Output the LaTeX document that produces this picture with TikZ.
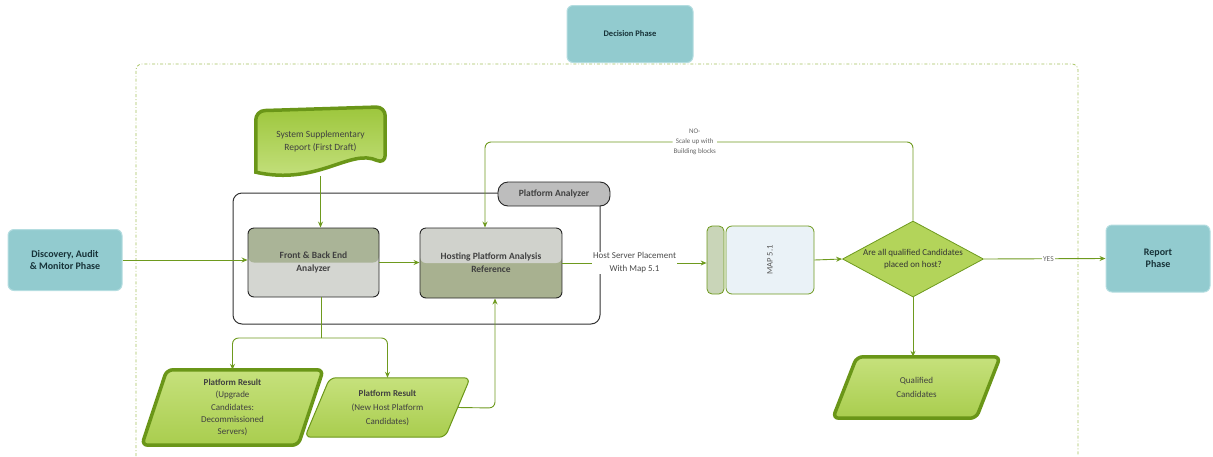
\documentclass[tikz,border=0pt]{standalone}
\usepackage{fontspec}
\setmainfont{Carlito}
\usetikzlibrary{arrows.meta,shapes.geometric,backgrounds,calc}
\definecolor{tealfill}{HTML}{92CBCF}
\definecolor{tealedge}{HTML}{B4DDE0}
\definecolor{tealtext}{HTML}{173238}
\definecolor{gline}{HTML}{6E9A1E}
\definecolor{gthick}{HTML}{6A9618}
\definecolor{framec}{HTML}{A4C25E}
\definecolor{paratop}{HTML}{C6E17C}
\definecolor{parabot}{HTML}{A9CD4E}
\definecolor{doctop}{HTML}{9DC63C}
\definecolor{docbot}{HTML}{C8E384}
\definecolor{diafill}{HTML}{B3D45A}
\definecolor{grayA}{HTML}{AAB497}
\definecolor{grayB}{HTML}{D4D6D1}
\definecolor{grayC}{HTML}{D0D2CC}
\definecolor{grayD}{HTML}{A8B190}
\definecolor{tabfill}{HTML}{BDBDBD}
\definecolor{mapbar}{HTML}{C9D5B8}
\definecolor{mapfill}{HTML}{EAF2F7}
\begin{document}
\begin{tikzpicture}[x=1pt,y=-1pt,
  phasebox/.style={rectangle, rounded corners=6pt, fill=tealfill, draw=tealedge, line width=1pt,
     font=\bfseries\fontsize{10}{11.5}\selectfont, text=tealtext, align=center, inner sep=0pt},
  anbox/.style={rectangle, rounded corners=6pt, draw=black!85, line width=0.9pt, align=center,
     font=\bfseries\fontsize{9.5}{13}\selectfont, text=black!75, inner sep=0pt},
  twotone/.style 2 args={path picture={
     \fill[#2] (path picture bounding box.north west) rectangle (path picture bounding box.south east);
     \fill[#1] (path picture bounding box.north west) rectangle (path picture bounding box.east);}},
  holder/.style={rectangle, inner sep=0pt, align=center},
  arr/.style={draw=gline, line width=0.9pt, -{Stealth[length=6pt,width=5pt]}},
  ln/.style={draw=gline, line width=0.9pt},
  lbl/.style={fill=white, inner sep=1pt, align=center, text=black!60},
  parastyle/.style={rounded corners=6pt, top color=paratop, bottom color=parabot, draw=gthick},
]
\useasboundingbox (0,0) rectangle (1213,456);

% dashed frame
\draw[framec, line width=0.8pt, dash dot, rounded corners=6pt] (136,456) -- (136,64) -- (1078,64) -- (1078,456);

% phases
\node[phasebox, minimum width=126, minimum height=57, font=\bfseries\fontsize{8.5}{10}\selectfont] (dec) at (630,34) {Decision Phase};
\node[phasebox, minimum width=114, minimum height=61] (disc) at (65,260) {Discovery, Audit\\\& Monitor Phase};
\node[phasebox, minimum width=104, minimum height=67] (rep) at (1158,258.5) {Report\\Phase};

% platform analyzer container
\node[rectangle, rounded corners=9pt, draw=black!80, line width=1pt, minimum width=367, minimum height=131] (pa) at (416.5,258.5) {};
\node[rectangle, rounded corners=10pt, draw=black!85, fill=tabfill, line width=0.9pt, minimum width=112, minimum height=24,
      font=\bfseries\fontsize{9.5}{11}\selectfont, text=black!75] (pat) at (554,194) {Platform Analyzer};

% analyzers
\node[anbox, twotone={grayA}{grayB}, minimum width=131, minimum height=69] (fb) at (313.5,262.5) {Front \& Back End\\Analyzer};
\node[anbox, twotone={grayC}{grayD}, minimum width=142, minimum height=70] (hp) at (491,263) {Hosting Platform Analysis\\Reference};

% supplementary report (document shape)
\node[holder, minimum width=129, minimum height=69, font=\fontsize{9.5}{13}\selectfont, text=black!75] (sup) at (320.5,141.5)
   {\raisebox{8pt}{\begin{tabular}{@{}c@{}}System Supplementary\\Report (First Draft)\end{tabular}}};
\begin{scope}[on background layer]
\draw[gthick, line width=3.5pt, top color=doctop, bottom color=docbot, rounded corners=9pt]
  (sup.south west) -- ([yshift=-4pt]sup.north west) -- (sup.north east) -- ([yshift=12pt]sup.south east)
  [sharp corners] .. controls (350,148) and (318,186) .. ([yshift=4pt]sup.south west) [rounded corners=9pt] -- cycle;
\end{scope}

% MAP
\node[rectangle, rounded corners=5pt, draw=gline, fill=mapbar, line width=0.8pt, minimum width=17, minimum height=68] (mbar) at (715.5,260) {};
\node[rectangle, rounded corners=6pt, draw=gline, fill=mapfill, line width=0.8pt, minimum width=88, minimum height=68] (map) at (770,260) {};
\node[rotate=90, font=\fontsize{8.5}{9}\selectfont, text=black!65] at (map) {MAP 5.1};

% decision diamond
\node[diamond, draw=gline, fill=diafill, line width=0.8pt, minimum width=141, minimum height=76, inner sep=0pt,
      label={[align=center, font=\fontsize{9}{12}\selectfont, text=black!80]center:Are all qualified Candidates\\placed on host?}] (dia) at (913,259) {};

% results
\node[holder, minimum width=181, minimum height=75, font=\fontsize{9}{12.3}\selectfont, text=black!75] (pr1) at (232.5,407.5)
   {\textbf{Platform Result}\\(Upgrade\\Candidates:\\Decommissioned\\Servers)};
\node[holder, minimum width=165, minimum height=59, font=\fontsize{9}{14}\selectfont, text=black!75] (pr2) at (387.5,407.5)
   {\textbf{Platform Result}\\(New Host Platform\\Candidates)};
\node[holder, minimum width=167, minimum height=61, font=\fontsize{9}{14}\selectfont, text=black!75] (qc) at (916.5,387.5)
   {Qualified\\Candidates};
\begin{scope}[on background layer]
\draw[parastyle, line width=1pt] ([xshift=25pt]pr2.north west) -- (pr2.north east) -- ([xshift=-25pt]pr2.south east) -- (pr2.south west) -- cycle;
\draw[parastyle, line width=3.5pt] ([xshift=25pt]pr1.north west) -- (pr1.north east) -- ([xshift=-25pt]pr1.south east) -- (pr1.south west) -- cycle;
\draw[parastyle, line width=3.5pt] ([xshift=24pt]qc.north west) -- (qc.north east) -- ([xshift=-24pt]qc.south east) -- (qc.south west) -- cycle;
\end{scope}

% connectors
\draw[arr] (disc.east) -- (disc.east -| fb.west);
\draw[arr] (sup.south) -- (sup.south |- fb.north);
\draw[arr] (fb.east) -- (fb.east -| hp.west);
\draw[arr] (hp.east) -- node[lbl, text=black!70, font=\fontsize{9}{13}\selectfont] {Host Server Placement\\With Map 5.1} (hp.east -| mbar.west);
\draw[arr] (map.east) -- (dia.west);
\draw[arr] (dia.east) -- node[lbl, font=\fontsize{7.5}{9}\selectfont, pos=0.53] {YES} (rep.west);
\coordinate (noc) at (485,142);
\draw[arr, rounded corners=6pt] (dia.north) -- (dia.north |- noc) -- node[lbl, pos=0.51, font=\fontsize{7}{10}\selectfont] {NO-\\Scale up with\\Building blocks} (noc) -- (noc |- hp.north);
\draw[arr] (dia.south) -- (dia.south |- qc.north);
\coordinate (br) at (321,338);
\draw[ln] (fb.south -| br) -- (br);
\draw[arr, rounded corners=6pt] (br) -| (pr1.north);
\draw[arr, rounded corners=6pt] (br) -| (pr2.north);
\coordinate (up) at (495,408);
\draw[arr, rounded corners=6pt] ([xshift=-12pt]pr2.east) -- (up) -- (up |- hp.south);
\end{tikzpicture}
\end{document}
